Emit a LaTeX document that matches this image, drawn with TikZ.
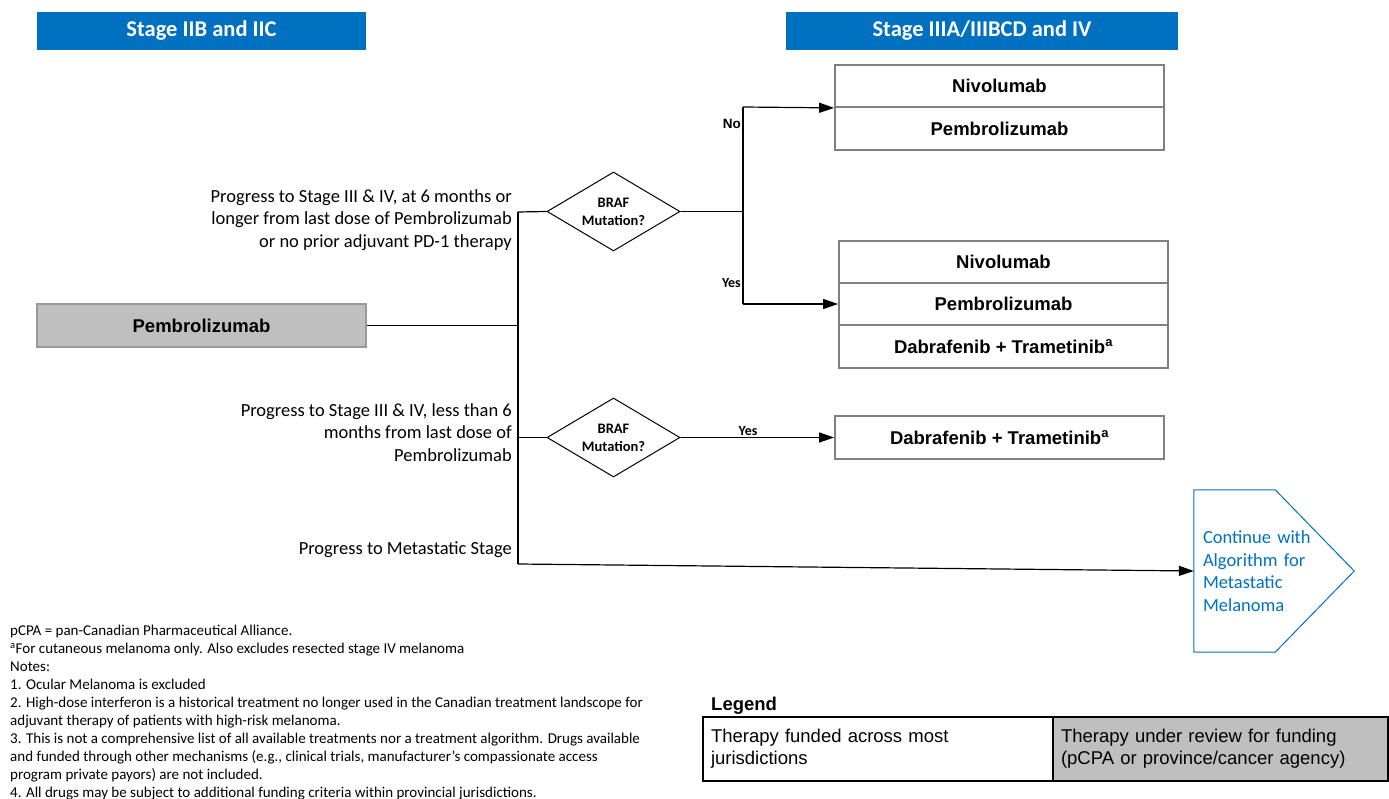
\documentclass[tikz,border=0pt]{standalone}
\usepackage{fontspec}
\setmainfont{Carlito}
\newfontfamily\arialfont{Liberation Sans}
\usetikzlibrary{shapes.geometric,arrows.meta}

\definecolor{hdrblue}{HTML}{0070C0}
\definecolor{boxgray}{HTML}{BFBFBF}
\definecolor{edgegray}{HTML}{808080}

\tikzset{
  header/.style={fill=hdrblue, text=white, inner sep=0pt, minimum height=38pt,
    font=\fontsize{22.5}{26}\selectfont\bfseries},
  drug/.style={draw=edgegray, line width=1.8pt, fill=white, inner sep=0pt,
    minimum width=329pt, minimum height=42pt,
    font=\arialfont\bfseries\fontsize{18.5}{22}\selectfont},
  braf/.style={diamond, draw, line width=1pt, aspect=1.7, inner sep=0pt,
    minimum width=133pt, minimum height=79pt, align=center,
    font=\fontsize{14.5}{18}\selectfont\bfseries},
  cond/.style={anchor=east, align=right, inner sep=0pt,
    font=\fontsize{18.5}{22.5}\selectfont},
  answer/.style={inner sep=1pt, font=\fontsize{14}{16}\selectfont\bfseries},
  link/.style={line width=1.2pt},
  flow/.style={line width=1.2pt, -{Triangle[length=15pt,width=10pt]}},
  contbox/.style={minimum width=160pt, minimum height=162pt, text width=142pt,
    inner xsep=9pt, inner ysep=0pt, align=left, text=hdrblue,
    font=\fontsize{18.5}{22.5}\selectfont},
  legcell/.style={draw=black, line width=1.8pt, minimum height=64pt,
    inner xsep=8pt, inner ysep=0pt, align=left,
    font=\arialfont\fontsize{18.5}{22}\selectfont},
}

\begin{document}
\begin{tikzpicture}[x=1pt,y=-1pt]
\useasboundingbox (0,0) rectangle (1389,799);

% Draw the stage headers
\node[header, minimum width=329pt] (hdrA) at (201.5,31) {Stage IIB and IIC};
\node[header, minimum width=392pt] (hdrB) at (982,31) {Stage IIIA/IIIBCD and IV};

% Draw the adjuvant therapy
\node[draw=edgegray!80, line width=1.5pt, fill=boxgray, inner sep=0pt,
  minimum width=329pt, minimum height=43pt,
  font=\arialfont\bfseries\fontsize{18.5}{22}\selectfont] (start) at (201.5,325.5) {Pembrolizumab};

% Draw the progression labels
\node[cond] (condA) at (512,220) {Progress to Stage III \& IV, at 6 months or\\longer from last dose of Pembrolizumab\\or no prior adjuvant PD-1 therapy};
\node[cond] (condB) at (512,432.5) {Progress to Stage III \& IV, less than 6\\months from last dose of\\Pembrolizumab};
\node[cond] (condC) at (512,550) {Progress to Metastatic Stage};

% Draw the decisions
\node[braf] (braf1) at (613.5,211.5) {BRAF\\Mutation?};
\node[braf] (braf2) at (613.5,437.5) {BRAF\\Mutation?};

% Draw the drug boxes
\node[drug] (niv1) at (999.5,86) {Nivolumab};
\node[drug, minimum height=43pt] (pem1) at (999.5,128.5) {Pembrolizumab};
\node[drug] (niv2) at (1003.5,262) {Nivolumab};
\node[drug] (pem2) at (1003.5,304) {Pembrolizumab};
\node[drug, minimum height=43pt] (dab2) at (1003.5,346.5) {Dabrafenib + Trametinib\textsuperscript{a}};
\node[drug, minimum height=43pt] (dab3) at (999.5,437.5) {Dabrafenib + Trametinib\textsuperscript{a}};

% Draw the next algorithm
\node[contbox] (cont) at (1274,571) {Continue with\\Algorithm for\\Metastatic\\Melanoma};
\draw[hdrblue, line width=1pt] (cont.north west) -- ([xshift=-79pt]cont.north east)
  -- (cont.east) -- ([xshift=-79pt]cont.south east) -- (cont.south west) -- cycle;

% Draw the trunk
\coordinate (trunktop) at (518,212);
\coordinate (trunkmid) at (518,325.5);
\coordinate (trunkbot) at (518,564);
\draw[link] (start.east) -- (trunkmid);
\draw[link] (trunktop) -- (trunkbot);
\draw[link] (trunktop) -- (braf1.west);
\draw[link] (braf2.west -| trunktop) -- (braf2.west);
\draw[flow] (trunkbot) -- (cont.west);

% Draw the fork after the first decision
\coordinate (forktop) at (743,107);
\coordinate (forkbot) at (743,304);
\draw[link] (braf1.east) -- (braf1.east -| forktop);
\draw[link] (forktop) -- (forkbot);
\draw[flow] (forktop) -- (niv1.south west);
\draw[flow] (forkbot) -- (pem2.west);
\node[answer, anchor=east, font=\arialfont\bfseries\fontsize{13.5}{16}\selectfont] (nolbl) at (742,124) {No};
\node[answer, anchor=east] (yeslbl) at (742,283) {Yes};

% Draw the second decision
\draw[flow] (braf2.east) -- node[answer, pos=0.44, above] (yeslbl2) {Yes} (dab3.west);

% Draw the notes
\node[anchor=north west, align=left, inner sep=0pt,
  font=\fontsize{15}{18}\selectfont] (notes) at (10,625) {pCPA = pan-Canadian Pharmaceutical Alliance.\\
\textsuperscript{a}For cutaneous melanoma only. Also excludes resected stage IV melanoma\\
Notes:\\
1. Ocular Melanoma is excluded\\
2. High-dose interferon is a historical treatment no longer used in the Canadian treatment landscope for\\
adjuvant therapy of patients with high-risk melanoma.\\
3. This is not a comprehensive list of all available treatments nor a treatment algorithm. Drugs available\\
and funded through other mechanisms (e.g., clinical trials, manufacturer’s compassionate access\\
program private payors) are not included.\\
4. All drugs may be subject to additional funding criteria within provincial jurisdictions.};

% Draw the legend
\node[anchor=west, inner sep=0pt, font=\arialfont\bfseries\fontsize{18.5}{22}\selectfont] (leghead) at (711,706) {Legend};
\node[legcell, minimum width=350pt, text width=334pt] (legA) at (878,749) {Therapy funded across most\\jurisdictions};
\node[legcell, fill=boxgray, minimum width=335pt, text width=319pt] (legB) at (1220.5,749) {Therapy under review for funding\\(pCPA or province/cancer agency)};

\end{tikzpicture}
\end{document}
